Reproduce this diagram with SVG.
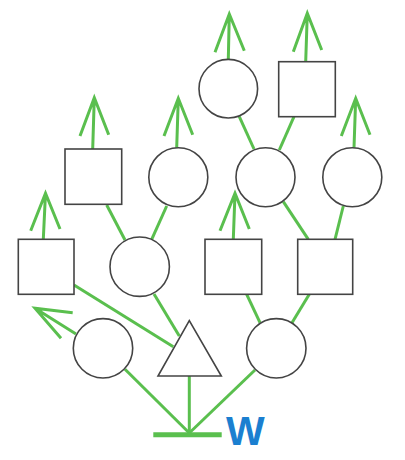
<svg xmlns="http://www.w3.org/2000/svg" width="405" height="460" viewBox="0 0 405 460">
<style>
.n{fill:#fff;stroke:#444;stroke-width:1.6}
.c line,.c path{stroke:#5abf4e;stroke-width:3;fill:none;stroke-linecap:butt}
.w{font-family:"Liberation Sans",Arial,sans-serif;font-weight:bold;font-size:41px;fill:#1b7fd0}
</style>
<rect width="405" height="460" fill="#fff"/>
<g class="c" id="connectors">
<!-- arrows -->
<path d="M228.3,59.3 L229.3,14 M215,52.3 L229.3,14 L244.3,50.7"/>
<path d="M305.7,61.7 L307.3,13.3 M293.3,51.7 L307.3,13.3 L321.7,50"/>
<path d="M92.7,149 L94.3,97.7 M80,136 L94.3,97.7 L108.7,134.7"/>
<path d="M176.7,147.7 L178.3,98.3 M164,136 L178.3,98.3 L192.7,134.7"/>
<path d="M354,147.7 L355.7,98.3 M341.3,136 L355.7,98.3 L370,134.7"/>
<path d="M43.3,239.3 L45.5,193.3 M30.7,230.7 L45.5,193.3 L60,229"/>
<path d="M233.3,239.3 L235,193.3 M220,230.7 L235,193.3 L249.3,229"/>
<path d="M76,334 L35,308.3 M72.7,312.7 L35,308.3 L61,338.3"/>
<!-- tree edges -->
<line x1="239.3" y1="116.7" x2="254" y2="149"/>
<line x1="294" y1="116.7" x2="279.3" y2="150"/>
<line x1="106.7" y1="205" x2="125" y2="240"/>
<line x1="166.7" y1="206" x2="151.7" y2="239.3"/>
<line x1="283.3" y1="201.7" x2="308.3" y2="239.3"/>
<line x1="343.3" y1="206" x2="335" y2="239.3"/>
<line x1="74" y1="285" x2="173.3" y2="346.7"/>
<line x1="154" y1="294" x2="179.3" y2="336"/>
<line x1="246.7" y1="294.3" x2="260" y2="322.7"/>
<line x1="309.3" y1="294.3" x2="292" y2="322.7"/>
<line x1="189.3" y1="376" x2="189.3" y2="434"/>
<line x1="189.3" y1="433" x2="125" y2="369.3"/>
<line x1="189.3" y1="433" x2="255" y2="370"/>
<line x1="153.3" y1="434.7" x2="221.7" y2="434.7" style="stroke-width:5"/>
</g>
<g id="top-circle"><circle class="n" cx="228.3" cy="88.7" r="29.3"/></g>
<g id="top-square"><rect class="n" x="278.7" y="61.7" width="56.6" height="55"/></g>
<g id="mid-square"><rect class="n" x="65" y="149" width="56.7" height="55.3"/></g>
<g id="mid-circle-1"><circle class="n" cx="178.3" cy="177.2" r="29.5"/></g>
<g id="mid-circle-2"><circle class="n" cx="265.5" cy="177.2" r="29.5"/></g>
<g id="mid-circle-3"><circle class="n" cx="352.3" cy="177.2" r="29.5"/></g>
<g id="low-square-1"><rect class="n" x="18.3" y="239.3" width="55.7" height="55"/></g>
<g id="low-circle"><circle class="n" cx="139.7" cy="266.7" r="29.7"/></g>
<g id="low-square-2"><rect class="n" x="205" y="239.3" width="56.7" height="55"/></g>
<g id="low-square-3"><rect class="n" x="297.7" y="239.3" width="55" height="55"/></g>
<g id="bottom-circle-left"><circle class="n" cx="103" cy="348.3" r="29.7"/></g>
<g id="triangle"><polygon class="n" points="189.3,320.7 158,376 221.3,376"/></g>
<g id="bottom-circle-right"><circle class="n" cx="276.3" cy="348.3" r="29.7"/></g>
<g id="label-w"><text class="w" x="226" y="445">W</text></g>
</svg>
